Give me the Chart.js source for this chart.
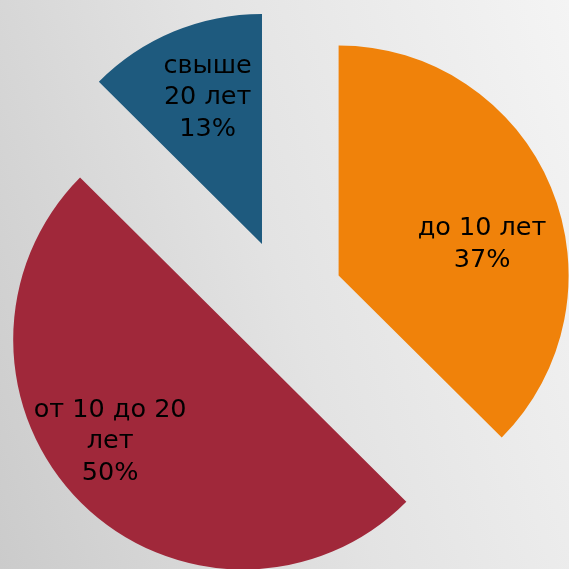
<!DOCTYPE html>
<html><head><meta charset="utf-8">
<script src="https://cdn.jsdelivr.net/npm/chart.js@4/dist/chart.umd.min.js"></script>
<style>
html,body{margin:0;padding:0;}
#wrap{width:569px;height:569px;background:linear-gradient(72deg,#cbcbcb 0%,#e3e3e3 50%,#f4f4f4 100%);}
</style></head><body><div id="wrap"><canvas id="c"></canvas></div>
<script>
const categories = [["до 10 лет"], ["от 10 до 20", "лет"], ["свыше", "20 лет"]];
const shares = [37.45, 50, 12.55];
const sliceColors = ["#F0820A", "#A0283A", "#1E5A7E"];

const explodeDistance = 58.6;
const labelPlacement = [ {shift: 10.4, frac: 0.638}, {shift: 7.7, frac: 0.729}, {shift: 2.2, frac: 0.679} ];

const explodePlugin = {
  id: 'explode',
  beforeDatasetsDraw(chart) {
    chart.getDatasetMeta(0).data.forEach(el => {
      const mid = (el.startAngle + el.endAngle) / 2;
      el.x += Math.cos(mid) * explodeDistance;
      el.y += Math.sin(mid) * explodeDistance;
    });
  },
  afterDatasetsDraw(chart) {
    const ctx = chart.ctx;
    const ds = chart.data.datasets[0];
    const total = ds.data.reduce((a, b) => a + b, 0);
    ctx.save();
    ctx.font = '25.5px "DejaVu Sans"';
    ctx.fillStyle = '#000';
    ctx.textAlign = 'center';
    ctx.textBaseline = 'middle';
    const lh = 31.5;
    chart.getDatasetMeta(0).data.forEach((el, i) => {
      const p = labelPlacement[i];
      const mid = (el.startAngle + el.endAngle) / 2 + p.shift * Math.PI / 180;
      const r = el.outerRadius * p.frac;
      const cx = el.x + Math.cos(mid) * r;
      const cy = el.y + Math.sin(mid) * r;
      const lines = chart.data.labels[i].concat([Math.round(ds.data[i] / total * 100) + '%']);
      const y0 = cy - (lines.length - 1) * lh / 2;
      lines.forEach((t, k) => ctx.fillText(t, cx, y0 + k * lh));
    });
    ctx.restore();
    chart.getDatasetMeta(0).data.forEach(el => {
      const mid = (el.startAngle + el.endAngle) / 2;
      el.x -= Math.cos(mid) * explodeDistance;
      el.y -= Math.sin(mid) * explodeDistance;
    });
  }
};

new Chart(document.getElementById('c'), {
  type: 'pie',
  data: {
    labels: categories,
    datasets: [{ data: shares, backgroundColor: sliceColors, borderWidth: 0 }]
  },
  options: {
    responsive: true,
    maintainAspectRatio: false,
    animation: false,
    events: [],
    radius: 230,
    layout: { padding: { top: 27, bottom: 0, left: 0, right: 0 } },
    plugins: { legend: { display: false }, tooltip: { enabled: false } }
  },
  plugins: [explodePlugin]
});
</script></body></html>
